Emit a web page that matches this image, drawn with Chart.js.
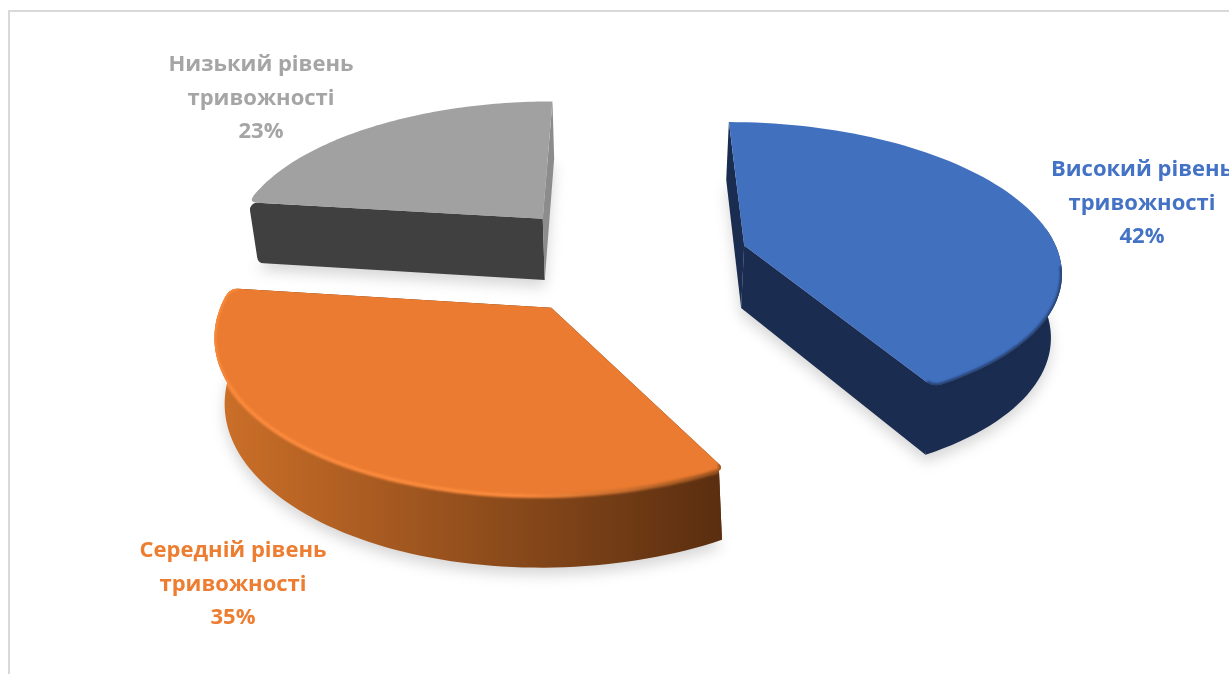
<!DOCTYPE html>
<html lang="uk">
<head>
<meta charset="utf-8">
<title>Рівень тривожності</title>
<script src="https://cdn.jsdelivr.net/npm/chart.js"></script>
<style>
    html, body { margin: 0; padding: 0; background: #fff; overflow: hidden; }
    #frame {
        position: absolute; left: 8px; top: 10px; right: 0; bottom: 0;
        border-left: 2px solid #d9d9d9; border-top: 2px solid #d9d9d9;
    }
    #pie { position: absolute; left: 0; top: 0; }
</style>
</head>
<body>
<div id="frame"></div>
<canvas id="pie" width="1229" height="674"></canvas>
<script>
const categories = ['Високий рівень тривожності', 'Середній рівень тривожності', 'Низький рівень тривожності'];
const shares = [42, 35, 23];

const faceColors = ['#4170bf', '#ea7b30', '#a1a1a1'];
const textColors = ['#4472c4', '#ed7d31', '#a5a5a5'];
const wallLeft = ['#1a2c50', '#cd7029', '#8c8c8c'];
const wallRight = ['#1a2c50', '#5a2e10', '#404040'];
const rimLeft = ['rgba(26,44,80,0.7)', '#fb8a3c', null];
const rimRight = ['rgba(26,44,80,0.7)', '#9a5420', null];
const explode = [128, 120, 125];
const roundStart = [false, true, true];
const roundEnd = [true, true, false];

// where each label block is centred, first line and line step
const labelX = [1142, 233, 261];
const labelY = [170, 551, 65];
const lineStep = 33.5;

// tilt of the pie plane
const TILT = 0.46;
const PERSPECTIVE = 0.00046;
const DEPTH = 63;
const WALL_LEAN = 0.025;
const CORNER = 8;

function project(arc, px, py) {
    const w = 1 - PERSPECTIVE * py;
    return { x: arc.x + px / w, y: arc.y + TILT * py / w, w };
}

function drop(arc, p) {
    const b = p.base || p;
    return { x: b.x + (arc.x - b.x) * WALL_LEAN, y: b.y + DEPTH / Math.pow(b.w, 0.6) };
}

// turns the sharp corner at pts[0] into a short curve towards the apex,
// the wall below keeps the sharp corner through .base
function softenCorner(apex, pts) {
    const corner = pts[0];
    const len = Math.hypot(apex.x - corner.x, apex.y - corner.y);
    const from = {
        x: corner.x + (apex.x - corner.x) * CORNER / len,
        y: corner.y + (apex.y - corner.y) * CORNER / len
    };
    let k = 1;
    while (Math.hypot(pts[k].x - corner.x, pts[k].y - corner.y) < CORNER) k++;
    const to = pts[k];
    const curve = [];
    for (let t = 0; t < 1; t += 0.125) {
        const u = 1 - t;
        curve.push({
            x: u * u * from.x + 2 * u * t * corner.x + t * t * to.x,
            y: u * u * from.y + 2 * u * t * corner.y + t * t * to.y,
            w: corner.w,
            angle: corner.angle,
            base: corner
        });
    }
    return [...curve, ...pts.slice(k)];
}

// rim and apex of one slice on the tilted plane, read from the library's arc
function sliceOutline(arc, i) {
    const { startAngle, endAngle, outerRadius } = arc.getProps(['startAngle', 'endAngle', 'outerRadius']);
    const mid = (startAngle + endAngle) / 2;
    const ox = Math.cos(mid) * arc.options.offset;
    const oy = Math.sin(mid) * arc.options.offset;
    const apex = project(arc, ox, oy);
    let rim = [];
    const steps = 80;
    for (let n = 0; n <= steps; n++) {
        const a = startAngle + (endAngle - startAngle) * n / steps;
        rim.push(Object.assign(project(arc, ox + Math.cos(a) * outerRadius, oy + Math.sin(a) * outerRadius), { angle: a }));
    }
    if (roundStart[i]) rim = softenCorner(apex, rim);
    if (roundEnd[i]) rim = softenCorner(apex, rim.reverse()).reverse();
    return { apex, rim };
}

function tracePoly(ctx, points) {
    ctx.beginPath();
    points.forEach((p, n) => n ? ctx.lineTo(p.x, p.y) : ctx.moveTo(p.x, p.y));
    ctx.closePath();
}

// straight wall under a slice edge, with a rounded outer side if asked for
function traceWall(ctx, arc, apex, b, rounded) {
    const low = drop(arc, b);
    const lowApex = drop(arc, apex);
    ctx.beginPath();
    ctx.moveTo(apex.x, apex.y);
    if (rounded) {
        ctx.arcTo(b.x, b.y, low.x, low.y, 7);
        ctx.arcTo(low.x, low.y, lowApex.x, lowApex.y, 7);
    } else {
        ctx.lineTo(b.x, b.y);
        ctx.lineTo(low.x, low.y);
    }
    ctx.lineTo(lowApex.x, lowApex.y);
    ctx.closePath();
}

function drawSlice(ctx, arc, i) {
    const { apex, rim } = sliceOutline(arc, i);
    const top = [apex, ...rim];
    const bottom = top.map(p => drop(arc, p));

    // soft ground shadow
    ctx.save();
    ctx.filter = 'blur(7px)';
    ctx.fillStyle = 'rgba(0,0,0,0.16)';
    tracePoly(ctx, bottom.map(p => ({ x: p.x, y: p.y + 7 })));
    ctx.fill();
    ctx.restore();

    // straight walls first, the curved wall goes over them
    const ends = [rim[0], rim[rim.length - 1]];
    ends.forEach((e, n) => {
        // the orange edges are hidden under the face, no corner to show there
        const b = i === 1 ? e : (e.base || e);
        ctx.fillStyle = (i === 2 && n === 1) ? wallLeft[i] : wallRight[i];
        traceWall(ctx, arc, apex, b, i === 2 && n === 0);
        ctx.fill();
    });

    // only the part of the rim that faces the viewer, the grey slice has none
    const front = i === 2 ? [] : rim.filter(p => Math.sin(p.angle) > -0.15);
    const frontWall = [...front, ...front.slice().reverse().map(p => drop(arc, p))];
    if (front.length > 1) {
        const xs = front.map(p => p.x);
        const grad = ctx.createLinearGradient(Math.min(...xs), 0, Math.max(...xs), 0);
        grad.addColorStop(0, wallLeft[i]);
        grad.addColorStop(1, wallRight[i]);
        ctx.fillStyle = grad;
        tracePoly(ctx, frontWall);
        ctx.fill();
    }

    ctx.fillStyle = arc.options.backgroundColor;
    tracePoly(ctx, top);
    ctx.fill();

    // rounded edge where the face turns into the wall
    if (rimLeft[i]) {
        const edge = rim.filter(p => Math.sin(p.angle) > (i === 0 ? 0.12 : -0.25));
        const xs = edge.map(p => p.x);
        const grad = ctx.createLinearGradient(Math.min(...xs), 0, Math.max(...xs), 0);
        grad.addColorStop(0, rimLeft[i]);
        grad.addColorStop(0.6, rimLeft[i]);
        grad.addColorStop(1, rimRight[i]);
        ctx.save();
        ctx.beginPath();
        [top, frontWall].forEach(poly => poly.forEach((p, n) => n ? ctx.lineTo(p.x, p.y) : ctx.moveTo(p.x, p.y)));
        ctx.clip();
        ctx.filter = 'blur(1.2px)';
        ctx.strokeStyle = grad;
        ctx.lineWidth = 4;
        ctx.beginPath();
        edge.forEach((p, n) => n ? ctx.lineTo(p.x, p.y) : ctx.moveTo(p.x, p.y));
        ctx.stroke();
        ctx.restore();
    }
}

const tiltedPie = {
    id: 'tiltedPie',
    beforeDatasetsDraw(chart) {
        const arcs = chart.getDatasetMeta(0).data;
        // far slice first
        [2, 0, 1].forEach(i => drawSlice(chart.ctx, arcs[i], i));
        return false;
    },
    afterDraw(chart) {
        const ctx = chart.ctx;
        ctx.save();
        ctx.font = 'bold 22px "Open Sans", sans-serif';
        ctx.textAlign = 'center';
        ctx.textBaseline = 'middle';
        categories.forEach((name, i) => {
            const cut = name.lastIndexOf(' ');
            const lines = [name.slice(0, cut), name.slice(cut + 1), shares[i] + '%'];
            ctx.fillStyle = textColors[i];
            lines.forEach((t, n) => ctx.fillText(t, labelX[i], labelY[i] + n * lineStep));
        });
        ctx.restore();
    }
};

new Chart(document.getElementById('pie'), {
    type: 'pie',
    data: {
        labels: categories,
        datasets: [{
            data: shares,
            backgroundColor: faceColors,
            borderWidth: 0,
            offset: explode,
            radius: 316
        }]
    },
    options: {
        responsive: false,
        animation: false,
        events: [],
        layout: { padding: { left: 15, bottom: 154 } },
        plugins: { legend: { display: false }, tooltip: { enabled: false } }
    },
    plugins: [tiltedPie]
});
</script>
</body>
</html>
